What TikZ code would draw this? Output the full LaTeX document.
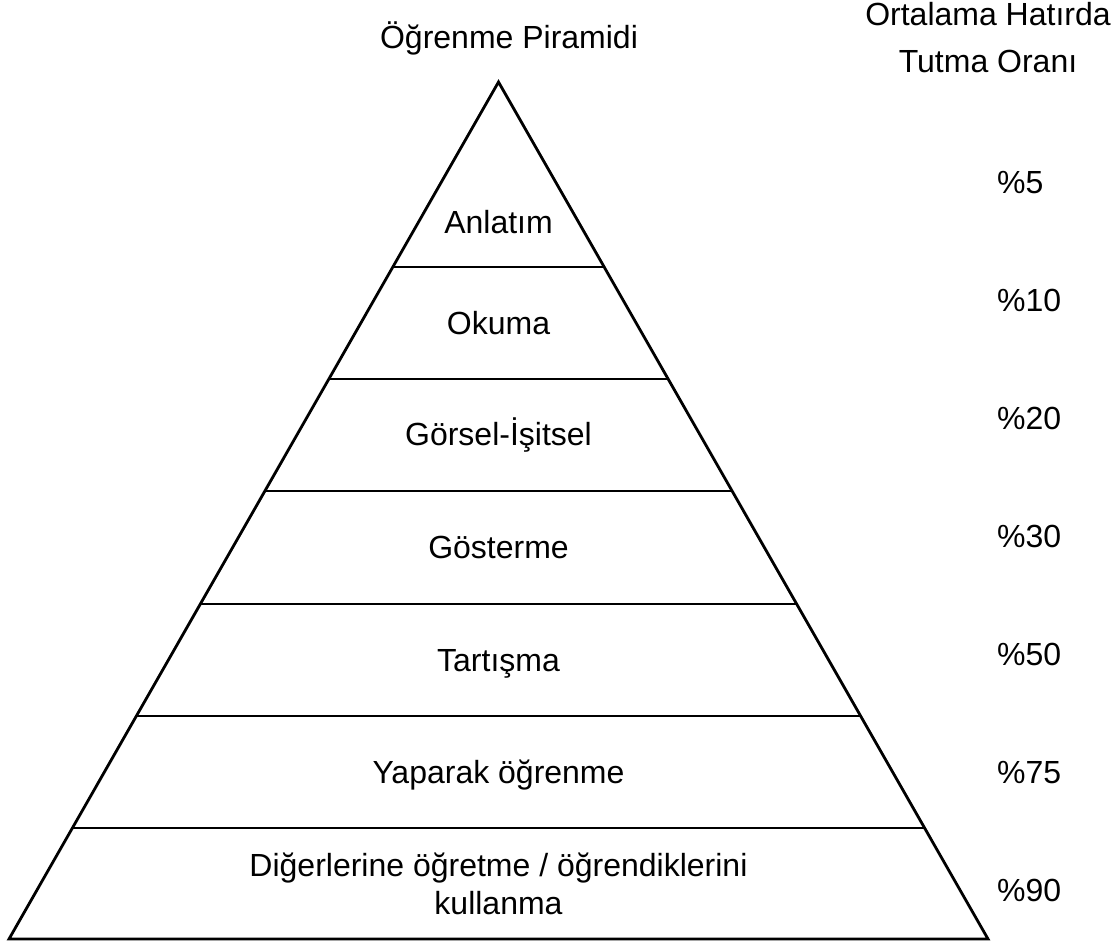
\documentclass[tikz,border=0pt]{standalone}
\usepackage{fontspec}
\setmainfont{Liberation Sans}
\usetikzlibrary{calc}
\tikzset{
  pyredge/.style={line width=2.8pt,black},
  pyrlabel/.style={font=\fontsize{32}{38}\selectfont,align=center,
                   inner sep=0pt,anchor=base},
  pyrrate/.style={font=\fontsize{32}{32}\selectfont,inner sep=0pt,
                  anchor=base west},
  pyrhead/.style={font=\fontsize{32}{47}\selectfont,align=center,
                  inner sep=0pt,anchor=base}
}
\begin{document}
\begin{tikzpicture}[x=1pt,y=-1pt]
  \useasboundingbox (0,0) rectangle (1116,945);

  \coordinate (apex) at (498.5,82);
  \coordinate (baseL) at (9,939);
  \coordinate (baseR) at (988,939);
  \draw[pyredge] (apex) -- (baseR) -- (baseL) -- cycle;
  \foreach \y in {267,379,491,604,716,828}
    \draw[pyredge] ($(apex)!{(\y-82)/857}!(baseL)$)
      -- ($(apex)!{(\y-82)/857}!(baseR)$);

  \node[pyrhead] (title) at (509,48) {Öğrenme Piramidi};
  \node[pyrhead] (ratehead) at (988,72) {Ortalama Hatırda\\Tutma Oranı};

  \node[pyrlabel] (anlatim) at (498.5,233) {Anlatım};
  \node[pyrlabel] (okuma) at (498.5,334) {Okuma};
  \node[pyrlabel] (gorsel) at (498.5,445) {Görsel-İşitsel};
  \node[pyrlabel] (gosterme) at (498.5,558) {Gösterme};
  \node[pyrlabel] (tartisma) at (498.5,671) {Tartışma};
  \node[pyrlabel] (yaparak) at (498.5,783) {Yaparak öğrenme};
  \node[pyrlabel] (ogretme) at (498.5,914)
    {Diğerlerine öğretme / öğrendiklerini\\kullanma};

  \node[pyrrate] (rate5) at (997,193) {\%5};
  \node[pyrrate] (rate10) at (997,311) {\%10};
  \node[pyrrate] (rate20) at (997,429) {\%20};
  \node[pyrrate] (rate30) at (997,547) {\%30};
  \node[pyrrate] (rate50) at (997,665) {\%50};
  \node[pyrrate] (rate75) at (997,783) {\%75};
  \node[pyrrate] (rate90) at (997,901) {\%90};
\end{tikzpicture}
\end{document}
